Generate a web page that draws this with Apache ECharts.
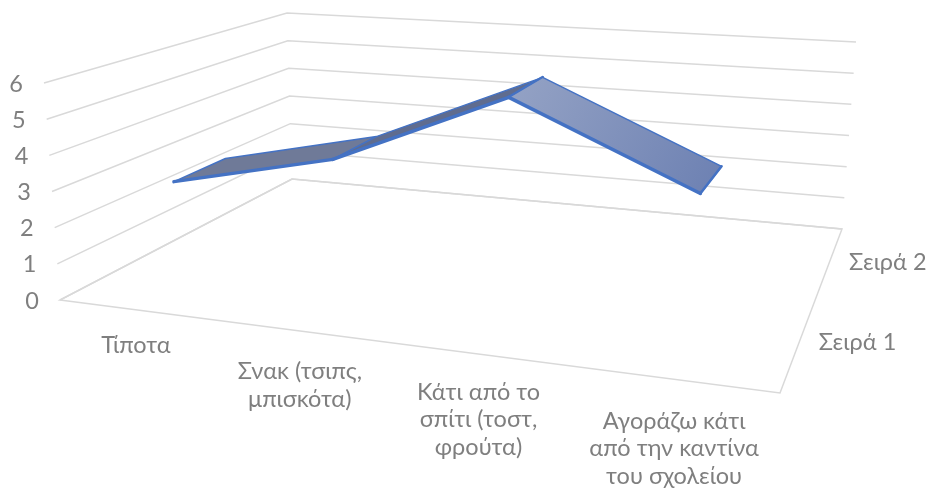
<!DOCTYPE html>
<html><head><meta charset="utf-8">
<style>html,body{margin:0;padding:0;background:#fff}#c{width:931px;height:489px}</style>
<script src="https://cdn.jsdelivr.net/npm/echarts@6/dist/echarts.min.js"></script>
</head><body><div id="c"></div>
<script>
var categories = ['Τίποτα', 'Σνακ (τσιπς,\nμπισκότα)', 'Κάτι από το\nσπίτι (τοστ,\nφρούτα)', 'Αγοράζω κάτι\nαπό την καντίνα\nτου σχολείου'];
var valueTicks = [0, 1, 2, 3, 4, 5, 6];
var seriesNames = ['Σειρά 1', 'Σειρά 2'];
var series1 = [2.95, 3.98, 6.02, 3.92];

var W = 931, H = 489, FONT = 'Lato,"Open Sans",sans-serif', GREY = '#7f7f7f', LINE = '#d9d9d9', BLUE = '#4472c4';
var floorQ = [[60,300],[780,393],[842,229],[292,179]];
var topQ = [[44,83],[797,139],[856,42],[287,13]];
var RIB = [0.155, 0.36];
var labelDy = [22, 27, 24, 28];

function homog(q){
  var x0=q[0][0],y0=q[0][1],x1=q[1][0],y1=q[1][1],x2=q[2][0],y2=q[2][1],x3=q[3][0],y3=q[3][1];
  var dx1=x1-x2,dx2=x3-x2,dx3=x0-x1+x2-x3,dy1=y1-y2,dy2=y3-y2,dy3=y0-y1+y2-y3,det=dx1*dy2-dx2*dy1;
  var g=(dx3*dy2-dx2*dy3)/det,h=(dx1*dy3-dx3*dy1)/det;
  var a=x1-x0+g*x1,b=x3-x0+h*x3,d=y1-y0+g*y1,e=y3-y0+h*y3;
  return function(u,v){var w=g*u+h*v+1;return [(a*u+b*v+x0)/w,(d*u+e*v+y0)/w];};
}
var hF = homog(floorQ), hT = homog(topQ);
function P(u,d,t){var a=hF(u,d),b=hT(u,d);return [a[0]+(b[0]-a[0])*t,a[1]+(b[1]-a[1])*t];}
function flat(api,i,v){var c=api.coord([i,v]);return {u:c[0]/W,t:(H-c[1])/H};}
function vt(api,v){return (H-api.coord([0,v])[1])/H;}
function txt(x,y,s,al,vb){return {type:'text',style:{x:x,y:y,text:s,font:'23.5px '+FONT,fill:GREY,align:al,verticalAlign:vb,lineHeight:27.5}};}

var chart = echarts.init(document.getElementById('c'),null,{renderer:'canvas'});
chart.setOption({
  animation:false, backgroundColor:'#fff',
  grid:{left:0,right:0,top:0,bottom:0},
  xAxis:{type:'category',data:categories,show:false},
  yAxis:{type:'value',min:0,max:6,interval:1,show:false},
  series:[
    {type:'custom',silent:true,clip:false,coordinateSystem:'cartesian2d',data:valueTicks.map(function(v){return [0,v];}),
     renderItem:function(p,api){
       var t=vt(api,api.value(1));
       var lb=P(0,0,t);
       var ch=[{type:'polyline',shape:{points:[P(0,0,t),P(0,1,t),P(1,1,t)]},style:{stroke:LINE,lineWidth:1.5,fill:null}},
               txt(lb[0]-21,lb[1]+1,String(api.value(1)),'right','middle')];
       return {type:'group',children:ch};
     }},
    {type:'custom',silent:true,clip:false,data:[[0,0]],
     renderItem:function(){return {type:'polygon',shape:{points:[P(0,0,0),P(1,0,0),P(1,1,0),P(0,1,0)]},style:{stroke:LINE,lineWidth:1.5,fill:null}};}},
    {type:'custom',silent:true,clip:false,data:categories.map(function(c,i){return [i,0];}),
     renderItem:function(p,api){
       var i=api.value(0),a=P((i+.5)/categories.length,0,0);
       return txt(a[0]-1,a[1]+labelDy[i],categories[i],'center','top');
     }},
    {type:'custom',silent:true,clip:false,data:seriesNames.map(function(c,i){return [0,i];}),
     renderItem:function(p,api){
       var i=api.value(1),a=P(1,(i+.5)/seriesNames.length,0);
       return txt(a[0]+19,a[1]+(i?2:1),seriesNames[i],'left','middle');
     }},
    {type:'custom',silent:true,clip:false,name:seriesNames[0],
     data:series1.slice(0,-1).map(function(v,i){return [i,v,series1[i+1]];}),
     renderItem:function(p,api){
       var i=api.value(0);
       var a=flat(api,i,api.value(1)),b=flat(api,i+1,api.value(2));
       var f0=P(a.u,RIB[0],a.t),f1=P(b.u,RIB[0],b.t),b0=P(a.u,RIB[1],a.t),b1=P(b.u,RIB[1],b.t);
       var fills=['#6f7a98','#5f6c8f',new echarts.graphic.LinearGradient(0,0,1,1,[{offset:0,color:'#95a3c5'},{offset:1,color:'#6c80b2'}])];
       var ch=[{type:'polygon',shape:{points:[f0,f1,b1,b0]},style:{fill:fills[i],stroke:BLUE,lineWidth:1.5,lineJoin:'round'}},
               {type:'line',shape:{x1:f0[0],y1:f0[1],x2:f1[0],y2:f1[1]},style:{stroke:BLUE,lineWidth:3.5,lineCap:'round'}}];
       if(i===1) ch.push({type:'line',shape:{x1:f1[0],y1:f1[1],x2:b1[0],y2:b1[1]},style:{stroke:BLUE,lineWidth:3,lineCap:'round'}});
       if(i===categories.length-2) ch.push({type:'line',shape:{x1:f1[0],y1:f1[1],x2:b1[0],y2:b1[1]},style:{stroke:BLUE,lineWidth:2.5,lineCap:'round'}});
       return {type:'group',children:ch};
     }}
  ]
});
</script></body></html>
